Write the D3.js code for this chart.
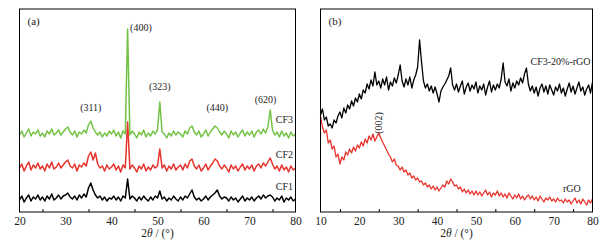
<!DOCTYPE html>
<html lang="en">
<head>
<meta charset="UTF-8">
<title>XRD</title>
<script src="https://d3js.org/d3.v7.min.js"></script>
<style>
  body { margin: 0; background: #fff; }
  svg { font-family: "Liberation Serif", "DejaVu Serif", serif; }
</style>
</head>
<body>
<div id="chart"></div>
<script>
// sampling grid: 0.5 degree steps
const stepA = 0.5, startA = 20;
const stepB = 0.5, startB = 10;

// panel (a) intensities (a.u., stacked)
const cf1 = [12,16,10,14,17,11,15,13,17,12, 15,11,16,13,18,12,14,17,13,16,
  17,19,15,13,16,12,17,14,18,15, 24,29,22,17,14,16,12,15,11,14,
  13,16,12,15,11,16,14,33,13,16, 14,11,15,12,16,13,11,15,12,16,
  14,21,13,15,11,14,12,16,13,11, 15,12,16,14,18,22,15,12,14,11,
  13,16,12,15,17,19,22,16,13,15, 14,11,15,12,14,10,13,16,11,14,
  12,15,11,14,16,13,17,14,16,17, 15,11,14,12,16,10,14,12,15,11, 13];
const cf2 = [44,48,41,46,50,42,47,44,49,43, 46,41,48,44,50,43,45,49,44,47,
  50,52,46,44,48,41,47,45,49,46, 56,60,52,59,48,44,46,41,47,43,
  45,48,42,46,40,47,44,90,43,47, 44,40,46,43,48,41,45,42,47,44,
  46,63,44,47,41,46,43,48,42,45, 47,42,48,44,51,53,46,43,47,41,
  44,48,42,46,49,53,51,46,43,47, 44,40,47,43,46,41,45,48,42,46,
  43,47,41,46,48,44,49,46,50,54, 48,43,46,41,47,42,45,40,46,42, 44];
const cf3 = [77,81,75,79,83,76,80,78,82,76, 79,75,81,78,83,77,79,82,77,80,
  83,85,80,77,81,75,80,78,82,79, 87,91,84,80,77,80,75,79,76,81,
  78,82,76,80,74,81,78,183,77,81, 78,74,80,77,82,75,79,76,81,78,
  82,110,80,78,74,79,76,81,77,80, 78,75,81,78,84,86,80,77,81,75,
  78,82,76,80,83,86,84,80,77,81, 78,74,81,77,80,75,79,82,76,80,
  77,81,75,80,82,78,83,79,85,102, 82,77,80,75,81,76,79,74,80,76, 78];

// panel (b) intensities
const cfGO = [97,103,92,95,86,88,84,92,89,96, 100,94,104,99,107,103,111,106,114,110,
  118,113,122,119,128,123,132,126,140,127, 131,124,133,127,135,122,130,126,134,129,
  137,147,131,125,133,127,135,124,132,137, 145,172,150,131,124,128,121,126,119,125,
  118,110,121,125,128,132,136,144,127,122, 128,120,126,131,118,125,129,121,127,123,
  130,119,126,122,128,117,125,131,120,127, 122,128,124,133,149,130,126,133,121,129,
  124,131,127,134,129,138,144,128,121,126, 119,125,116,124,128,120,126,118,127,122,
  117,125,121,128,119,124,116,123,129,120, 126,118,124,130,121,125,117,123,127,119, 130];
const rgo = [96,85,79,82,69,72,63,66,55,58, 48,55,52,60,57,63,59,65,61,67,
  64,70,66,73,69,76,72,78,71,75, 79,74,70,66,62,58,55,50,53,47,
  46,42,45,40,42,37,39,34,36,32, 34,30,31,27,29,25,27,23,26,22,
  25,21,24,27,25,31,28,33,30,26, 27,23,25,20,23,19,22,18,21,17,
  21,17,20,16,19,22,17,20,15,19, 17,21,16,19,15,18,14,19,16,13,
  17,14,18,13,16,12,15,17,13,16, 12,15,11,16,13,10,14,12,15,11,
  13,10,14,11,12,9,13,10,12,8, 11,14,9,12,8,13,10,7,12,9, 13];

const seriesA = [
  { name: "CF1", values: cf1, color: "#000000" },
  { name: "CF2", values: cf2, color: "#e8322c" },
  { name: "CF3", values: cf3, color: "#74c244" }
];
const seriesB = [
  { name: "CF3-20%-rGO", values: cfGO, color: "#000000" },
  { name: "rGO", values: rgo, color: "#e8322c" }
];
const ticksA = [20, 30, 40, 50, 60, 70, 80];
const ticksB = [10, 20, 30, 40, 50, 60, 70, 80];
const minorA = [25, 35, 45, 55, 65, 75];
const minorB = [15, 25, 35, 45, 55, 65, 75];
const peaksA = [
  { label: "(311)", x: 35.5, y: 101 },
  { label: "(400)", x: 46.4, y: 181 },
  { label: "(323)", x: 50.5, y: 122 },
  { label: "(440)", x: 63.0, y: 101 },
  { label: "(620)", x: 73.5, y: 109 }
];

const W = 608, H = 247;
const plotTop = 9, plotBottom = 212;
const svg = d3.select("#chart").append("svg")
  .attr("width", W).attr("height", H);

function panel(opts) {
  const x = d3.scaleLinear().domain(opts.domain).range(opts.range);
  const y = d3.scaleLinear().domain([0, plotBottom - plotTop]).range([plotBottom, plotTop]);
  const g = svg.append("g");
  const line = d3.line()
    .x((d, i) => x(opts.start + i * opts.step))
    .y(d => y(d));

  opts.series.forEach(s => {
    g.append("path")
      .datum(s.values)
      .attr("fill", "none")
      .attr("stroke", s.color)
      .attr("stroke-width", opts.lw)
      .attr("stroke-linejoin", "round")
      .attr("d", line);
  });

  g.append("rect")
    .attr("x", opts.range[0]).attr("y", plotTop)
    .attr("width", opts.range[1] - opts.range[0])
    .attr("height", plotBottom - plotTop)
    .attr("fill", "none").attr("stroke", "#000").attr("stroke-width", 1);

  // labels on major ticks
  const ax = g.append("g")
    .attr("transform", `translate(0,${plotBottom})`)
    .call(d3.axisBottom(x).tickValues(opts.ticks).tickSize(0).tickPadding(5));
  ax.select(".domain").remove();
  ax.selectAll("text")
    .attr("font-family", "Liberation Serif")
    .attr("font-size", 11.5).attr("fill", "#222");

  // minor ticks pointing inward
  const mn = g.append("g")
    .attr("transform", `translate(0,${plotBottom})`)
    .call(d3.axisBottom(x).tickValues(opts.minor).tickSize(-3).tickFormat(""));
  mn.select(".domain").remove();

  const title = g.append("text")
    .attr("x", (opts.range[0] + opts.range[1]) / 2)
    .attr("y", 237)
    .attr("text-anchor", "middle")
    .attr("font-size", 11.5).attr("fill", "#222");
  title.append("tspan").text("2");
  title.append("tspan").attr("font-style", "italic").text("θ");
  title.append("tspan").text(" / (°)");

  g.append("text")
    .attr("x", opts.range[0] + 8).attr("y", 25)
    .attr("font-size", 11).attr("fill", "#222")
    .text(opts.tag);

  return { g, x, y };
}

const a = panel({ domain: [20, 80], range: [19.5, 295.5], series: seriesA, lw: 1.5,
  start: startA, step: stepA, ticks: ticksA, minor: minorA, tag: "(a)" });
const b = panel({ domain: [10, 80], range: [320.5, 592.5], series: seriesB, lw: 1.3,
  start: startB, step: stepB, ticks: ticksB, minor: minorB, tag: "(b)" });

// curve names
const namesA = [
  { name: "CF3", y: 89 }, { name: "CF2", y: 54 }, { name: "CF1", y: 22 }
];
a.g.selectAll(".nm").data(namesA).join("text")
  .attr("x", 293).attr("y", d => a.y(d.y))
  .attr("text-anchor", "end").attr("font-size", 10).attr("fill", "#222")
  .text(d => d.name);

a.g.selectAll(".pk").data(peaksA).join("text")
  .attr("x", d => a.x(d.x)).attr("y", d => a.y(d.y))
  .attr("text-anchor", "middle").attr("font-size", 10).attr("fill", "#222")
  .text(d => d.label);

const namesB = [
  { name: "CF3-20%-rGO", x: 80, y: 147 }, { name: "rGO", x: 77.5, y: 20 }
];
b.g.selectAll(".nm").data(namesB).join("text")
  .attr("x", d => b.x(d.x) - 2).attr("y", d => b.y(d.y))
  .attr("text-anchor", "end").attr("font-size", 10).attr("fill", "#222")
  .text(d => d.name);

b.g.append("text")
  .attr("transform", `translate(${b.x(25.7)},${b.y(89)}) rotate(-90)`)
  .attr("text-anchor", "middle").attr("font-size", 10).attr("fill", "#222")
  .text("(002)");
</script>
</body>
</html>
